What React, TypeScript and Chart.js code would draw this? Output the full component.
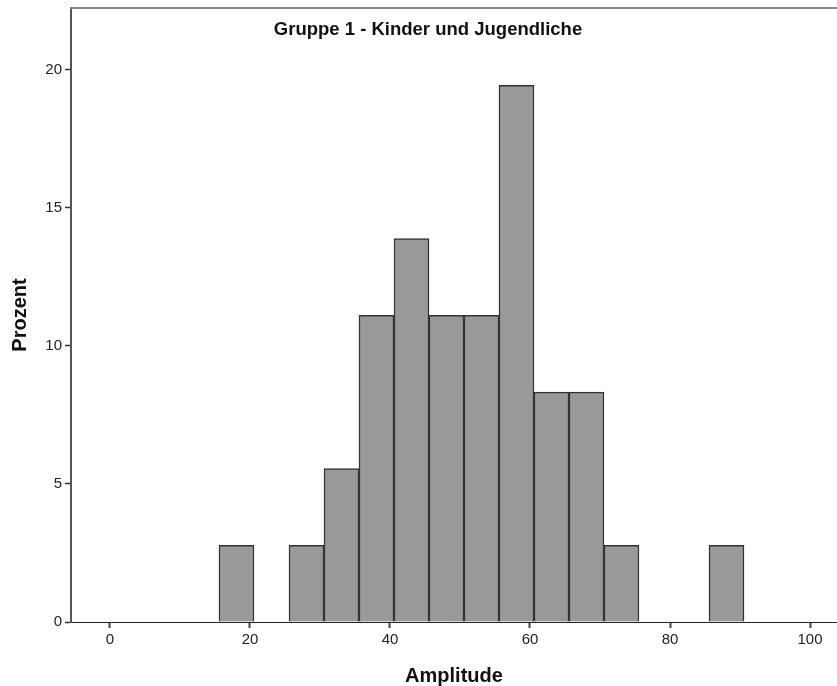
import React, { useEffect, useRef } from "react";
import { Chart, registerables } from "chart.js";

Chart.register(...registerables);

const binStarts = [15.57, 25.57, 30.57, 35.57, 40.57, 45.57, 50.57, 55.57, 60.57, 65.57, 70.57, 85.57];
const binWidth = 5;
const percents = [2.78, 2.78, 5.56, 11.11, 13.89, 11.11, 11.11, 19.44, 8.33, 8.33, 2.78, 2.78];
const xTicks = [0, 20, 40, 60, 80, 100];
const yTicks = [0, 5, 10, 15, 20];
const titleText = "Gruppe 1 - Kinder und Jugendliche";
const xTitle = "Amplitude";
const yTitle = "Prozent";

const FONT = "'Liberation Sans', Arial, sans-serif";

const innerTitle = {
  id: "innerTitle",
  afterDraw(chart: any) {
    const { ctx, chartArea } = chart;
    ctx.save();
    ctx.strokeStyle = "#8a8a8a";
    ctx.lineWidth = 2;
    ctx.beginPath();
    ctx.moveTo(chartArea.left - 1, chartArea.top);
    ctx.lineTo(chartArea.right, chartArea.top);
    ctx.stroke();
    ctx.fillStyle = "#111";
    ctx.font = `bold 18.5px ${FONT}`;
    ctx.textAlign = "center";
    ctx.textBaseline = "middle";
    ctx.fillText(titleText, chartArea.left + 357, chartArea.top + 22);
    ctx.restore();
  },
};

export default function App() {
  const ref = useRef<HTMLCanvasElement>(null);
  useEffect(() => {
    document.body.style.margin = "0";
    const data = binStarts.map((s, i) => ({ x: s + binWidth / 2, y: percents[i] }));
    const chart = new Chart(ref.current as HTMLCanvasElement, {
      type: "bar",
      data: {
        datasets: [
          {
            data: data as any,
            backgroundColor: "#999999",
            borderColor: "#333333",
            borderWidth: 1.5,
            barPercentage: 1,
            categoryPercentage: 1,
          },
        ],
      },
      options: {
        animation: false,
        responsive: false,
        devicePixelRatio: 1,
        layout: { padding: { top: 8, left: 0, right: 0, bottom: 0 } },
        plugins: { legend: { display: false }, tooltip: { enabled: false }, title: { display: false } },
        scales: {
          x: {
            type: "linear",
            min: -5.571,
            max: 103.857,
            offset: false,
            afterBuildTicks: (s: any) => {
              s.ticks = xTicks.map((v) => ({ value: v }));
            },
            afterFit: (s: any) => {
              s.height = 64;
              s.paddingLeft = 0;
              s.paddingRight = 0;
            },
            grid: { display: true, drawOnChartArea: false, drawTicks: true, tickLength: 6, tickWidth: 2, tickColor: "#444", offset: false },
            border: { display: true, color: "#222", width: 1 },
            ticks: { font: { family: FONT, size: 15 }, color: "#222", padding: 3, maxRotation: 0, autoSkip: false },
            title: { display: true, text: xTitle, font: { family: FONT, size: 20, weight: "bold" }, color: "#111", padding: { top: 0, bottom: -2 } },
          },
          y: {
            type: "linear",
            min: 0,
            max: 22.246,
            afterBuildTicks: (s: any) => {
              s.ticks = yTicks.map((v) => ({ value: v }));
            },
            afterFit: (s: any) => {
              s.width = 71;
              s.paddingTop = 0;
              s.paddingBottom = 0;
            },
            grid: { display: true, drawOnChartArea: false, drawTicks: true, tickLength: 6, tickWidth: 1.5, tickColor: "#333" },
            border: { display: true, color: "#555", width: 2 },
            ticks: { font: { family: FONT, size: 15 }, color: "#222", padding: 3, autoSkip: false },
            title: { display: true, text: yTitle, font: { family: FONT, size: 20, weight: "bold" }, color: "#111", padding: { top: 8, bottom: 0 } },
          },
        },
      },
      plugins: [innerTitle],
    });
    return () => chart.destroy();
  }, []);
  return <canvas ref={ref} width={837} height={686} style={{ display: "block", width: 837, height: 686 }} />;
}
